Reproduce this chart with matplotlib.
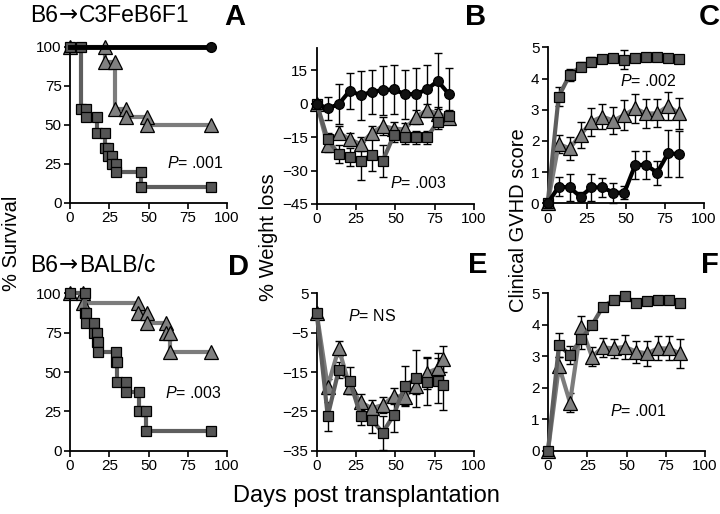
import matplotlib
matplotlib.use("Agg")
import matplotlib.pyplot as plt
import numpy as np

plt.rcParams['font.family'] = ['Liberation Sans', 'DejaVu Sans']
plt.rcParams['mathtext.fontset'] = 'custom'
plt.rcParams['mathtext.rm'] = 'Liberation Sans'
plt.rcParams['mathtext.it'] = 'Liberation Sans:italic'
plt.rcParams['mathtext.bf'] = 'Liberation Sans:bold'

# ---------------- data ----------------
# Panel A (B6->C3FeB6F1 survival), Kaplan-Meier events: time, survival after event
A_sq_t = [7, 10, 17.5, 22, 24.5, 26.5, 29.5, 45.5]
A_sq_v = [60, 55, 45, 35, 30, 25, 20, 10]
A_tr_t = [22, 28.5, 35.5, 49]
A_tr_v = [90, 60, 55, 50]

# Panel D (B6->BALB/c survival)
D_sq_t = [9.5, 10.5, 15.3, 17, 18, 29, 29.7, 35.6, 44, 48.7]
D_sq_v = [87.5, 81.25, 75, 68.75, 62.5, 56.25, 43.75, 37.5, 25, 12.5]
D_tr_t = [8.5, 43, 49, 61, 64]
D_tr_v = [93.75, 87.5, 81.25, 75, 62.5]

KM_END = 90

# Panel B (weight loss, C3FeB6F1)
days = [0, 7, 14, 21, 28, 35, 42, 49, 56, 63, 70, 77, 84]
B_ci = [0, -2.2, -0.3, 5.7, 3.7, 5.2, 6.0, 6.3, 4.2, 4.2, 6.3, 10.1, 4.2]
B_ci_e = [0, 5, 9, 8, 11, 10, 11, 11, 11, 11.5, 11, 12.5, 11.5]
B_tr = [0, -18.7, -13.1, -16.0, -18.2, -13.1, -10.1, -11.2, -11.6, -6.0, -3.0, -4.5, -6.3]
B_tr_e = [0, 3, 3, 3, 3, 3, 4, 3, 3, 3, 3, 3, 3]
B_sq = [0, -16.1, -22.7, -23.9, -25.7, -23.1, -25.7, -14.2, -15.2, -15.2, -15.2, -8.2, -5.7]
B_sq_e = [0, 3, 4, 4, 8.5, 7, 7, 3, 3, 3, 3, 3, 3]

# Panel C (clinical GVHD score, C3FeB6F1)
C_sq = [0, 3.42, 4.11, 4.38, 4.54, 4.62, 4.65, 4.60, 4.65, 4.70, 4.70, 4.65, 4.62]
C_sq_e = [0, 0.3, 0.2, 0.15, 0.15, 0.1, 0.1, 0.3, 0.1, 0.1, 0.1, 0.1, 0.1]
C_tr = [0, 1.90, 1.76, 2.19, 2.62, 2.78, 2.65, 2.83, 3.04, 2.88, 2.88, 3.12, 2.88]
C_tr_e = [0, 0.3, 0.38, 0.43, 0.45, 0.4, 0.43, 0.48, 0.46, 0.46, 0.45, 0.46, 0.5]
C_ci = [0, 0.53, 0.51, 0.21, 0.51, 0.51, 0.34, 0.34, 1.23, 1.23, 0.98, 1.60, 1.58]
C_ci_e = [0, 0.3, 0.43, 0.15, 0.43, 0.3, 0.32, 0.2, 0.46, 0.46, 0.39, 0.75, 0.75]

# Panel E (weight loss, BALB/c)
days_E = [0, 7, 14, 21, 28, 35, 42, 49, 56, 63, 70, 77, 80]
E_sq = [0, -26.2, -14.5, -17.2, -26.2, -27.2, -30.4, -25.9, -18.6, -16.6, -17.5, -17.2, -18.3]
E_sq_e = [0, 3.7, 2, 3.4, 2.3, 3.4, 4.3, 4.3, 5, 7.2, 6, 5.8, 6.4]
E_tr = [0, -18.7, -9.0, -18.7, -22.7, -24.2, -23.4, -21.1, -21.3, -18.6, -15.2, -14.1, -11.8]
E_tr_e = [0, 2, 2, 2, 2, 2, 2, 2, 2, 2, 4, 4, 3.3]

# Panel F (clinical GVHD score, BALB/c)
F_sq = [0, 3.36, 3.04, 3.54, 3.99, 4.58, 4.79, 4.92, 4.68, 4.76, 4.79, 4.79, 4.68]
F_sq_e = [0, 0.37, 0.3, 0.3, 0.1, 0.1, 0.1, 0.1, 0.1, 0.1, 0.1, 0.1, 0.1]
F_tr = [0, 2.69, 1.53, 3.94, 2.99, 3.28, 3.25, 3.30, 3.15, 3.09, 3.25, 3.25, 3.09]
F_tr_e = [0, 0.3, 0.3, 0.35, 0.3, 0.3, 0.3, 0.38, 0.35, 0.4, 0.38, 0.38, 0.45]

# ---------------- style ----------------
SQ_FACE = '#555555'
SQ_LINE = '#5e5e5e'
TR_FACE = '#808080'
TR_LINE = '#7c7c7c'
CI_FACE = '#111111'
CI_LINE = '#000000'

W, H = 720, 514
fig = plt.figure(figsize=(W / 100, H / 100), dpi=100)


def ax_px(x0, x1, ytop, ybot):
    return fig.add_axes([x0 / W, 1 - ybot / H, (x1 - x0) / W, (ybot - ytop) / H])


def style(ax, ylim, yticks):
    ax.set_xlim(0, 100)
    ax.set_ylim(*ylim)
    ax.set_xticks([0, 25, 50, 75, 100])
    ax.set_yticks(yticks)
    for s in ['top', 'right']:
        ax.spines[s].set_visible(False)
    for s in ['left', 'bottom']:
        ax.spines[s].set_linewidth(1.3)
    ax.tick_params(direction='out', length=4, width=1.2, labelsize=11, pad=2)
    ax.patch.set_alpha(0)


def km(ax, t, v, face, lc, marker, ms, lw=3.0, z=2):
    xs = [0]
    ys = [100]
    mx = [0]
    my = [100]
    prev = 100
    for ti, vi in zip(t, v):
        xs += [ti, ti]
        ys += [prev, vi]
        mx += [ti, ti]
        my += [prev, vi]
        prev = vi
    xs.append(KM_END)
    ys.append(prev)
    mx.append(KM_END)
    my.append(prev)
    ax.plot(xs, ys, color=lc, lw=lw, zorder=z, clip_on=False, solid_joinstyle='miter')
    ax.plot(mx, my, ls='none', marker=marker, ms=ms, mfc=face, mec='black', mew=0.9,
            zorder=z + 0.5, clip_on=False)


def series(ax, x, y, e, face, lc, marker, ms, z=2, lw=3.0):
    ax.errorbar(x, y, yerr=e, fmt='none', ecolor='black', elinewidth=1.0, capsize=3,
                capthick=1.0, zorder=1, clip_on=False)
    ax.plot(x, y, color=lc, lw=lw, zorder=z, clip_on=False)
    ax.plot(x, y, ls='none', marker=marker, ms=ms, mfc=face, mec='black', mew=0.9,
            zorder=z + 0.5, clip_on=False)


# ---------------- panels ----------------
axA = ax_px(70, 227, 46.7, 203)
style(axA, (0, 100), [0, 25, 50, 75, 100])
km(axA, A_tr_t, A_tr_v, TR_FACE, TR_LINE, '^', 10)
km(axA, A_sq_t, A_sq_v, SQ_FACE, SQ_LINE, 's', 7.5, z=3)
axA.plot([0, KM_END], [100, 100], color=CI_LINE, lw=3.5, zorder=4, clip_on=False)
axA.plot([KM_END], [100], 'o', ms=7, mfc=CI_FACE, mec='black', zorder=4.5, clip_on=False)

axB = ax_px(316.7, 474, 47.7, 204)
style(axB, (-45, 25), [15, 0, -15, -30, -45])
series(axB, days, B_tr, B_tr_e, TR_FACE, TR_LINE, '^', 10, z=2)
series(axB, days, B_sq, B_sq_e, SQ_FACE, SQ_LINE, 's', 7.5, z=3)
series(axB, days, B_ci, B_ci_e, CI_FACE, CI_LINE, 'o', 7, z=4)

axC = ax_px(547.7, 704, 47.3, 203.3)
style(axC, (0, 5), [0, 1, 2, 3, 4, 5])
series(axC, days, C_tr, C_tr_e, TR_FACE, TR_LINE, '^', 10, z=2)
series(axC, days, C_sq, C_sq_e, SQ_FACE, SQ_LINE, 's', 7.5, z=3)
series(axC, days, C_ci, C_ci_e, CI_FACE, CI_LINE, 'o', 7, z=4)

axD = ax_px(70, 227, 293.3, 450.7)
style(axD, (0, 100), [0, 25, 50, 75, 100])
km(axD, D_tr_t, D_tr_v, TR_FACE, TR_LINE, '^', 10)
km(axD, D_sq_t, D_sq_v, SQ_FACE, SQ_LINE, 's', 7.5, z=3)

axE = ax_px(316.7, 474, 293.3, 450.7)
style(axE, (-35, 5), [5, -5, -15, -25, -35])
series(axE, days_E, E_tr, E_tr_e, TR_FACE, TR_LINE, '^', 10, z=2)
series(axE, days_E, E_sq, E_sq_e, SQ_FACE, SQ_LINE, 's', 7.5, z=3)

axF = ax_px(548, 705, 293.3, 450.7)
style(axF, (0, 5), [0, 1, 2, 3, 4, 5])
series(axF, days, F_tr, F_tr_e, TR_FACE, TR_LINE, '^', 10, z=2)
series(axF, days, F_sq, F_sq_e, SQ_FACE, SQ_LINE, 's', 7.5, z=3)


# ---------------- text ----------------
def ftext(x, y, s, **kw):
    return fig.text(x / W, 1 - y / H, s, **kw)


renderer = fig.canvas.get_renderer()


def title_with_arrow(x, y, left, right, fs=16.5):
    t1 = ftext(x, y, left, fontsize=fs, ha='left', va='baseline')
    w1 = t1.get_window_extent(renderer).width
    x2 = x + w1 + 1
    t2 = ftext(x2, y - 0.5, '\u2192', fontsize=fs, ha='left', va='baseline',
               family='DejaVu Sans')
    w2 = t2.get_window_extent(renderer).width
    ftext(x2 + w2 + 1, y, right, fontsize=fs, ha='left', va='baseline')


title_with_arrow(30, 22, 'B6', 'C3FeB6F1')
title_with_arrow(30, 272, 'B6', 'BALB/c')

for lx, ly, lab in [(235, 17, 'A'), (476, 17, 'B'), (709, 17, 'C'),
                    (238, 267, 'D'), (478, 265, 'E'), (710, 265, 'F')]:
    ftext(lx, ly, lab, fontsize=21, fontweight='bold', ha='center', va='center')

for px, py, val in [(167, 163, '.001'), (390, 183, '.003'), (620, 81, '.002'),
                    (165, 393, '.003'), (348, 316, 'NS'), (610, 411, '.001')]:
    ftext(px, py, r'$\it{P}$' + '= ' + val, fontsize=11.5, ha='left', va='center')

ftext(12, 243, '% Survival', fontsize=14.5, rotation=90, ha='center', va='center')
ftext(268, 237, '% Weight loss', fontsize=14.5, rotation=90, ha='center', va='center')
ftext(519, 220, 'Clinical GVHD score', fontsize=14.5, rotation=90, ha='center', va='center')
ftext(366, 496, 'Days post transplantation', fontsize=17, ha='center', va='center')

fig.savefig('out.png', dpi=100)
